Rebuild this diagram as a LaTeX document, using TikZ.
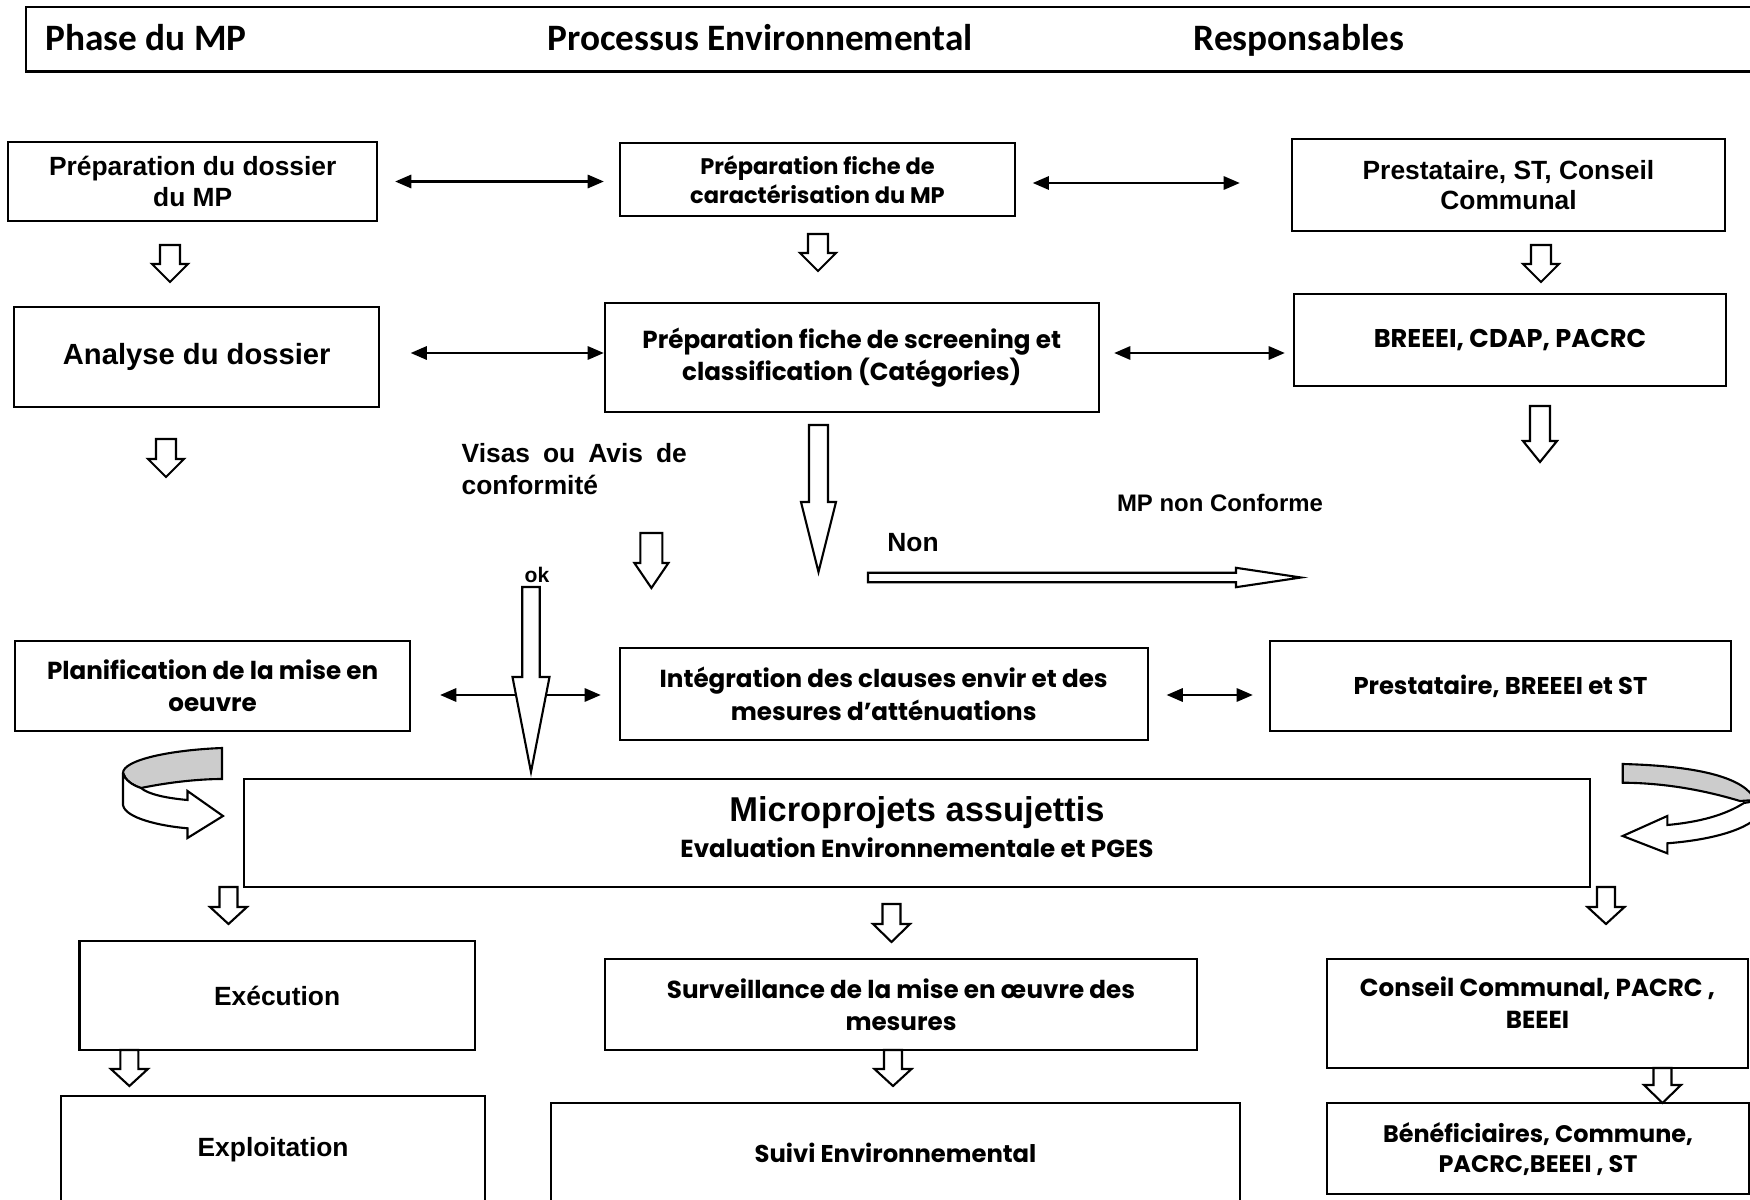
\documentclass[tikz,border=0pt]{standalone}
\usepackage{fontspec}
\setmainfont{Liberation Sans}
\newfontfamily\hdfont{Carlito}
\newfontfamily\cgfont{Poppins}
\usetikzlibrary{arrows.meta}

\tikzset{
  box/.style={draw, line width=0.6pt, inner sep=2pt, align=center,
    font=\bfseries\fontsize{7.5}{8.6}\selectfont},
  cgbox/.style={box, font=\cgfont\bfseries\fontsize{7}{9.2}\selectfont},
  biarrow/.style={line width=0.6pt,
    {Triangle[length=4.6pt,width=3.8pt]}-{Triangle[length=4.6pt,width=3.8pt]}},
  blk/.style={draw, line width=0.6pt, fill=white, line join=miter},
  lbl/.style={font=\bfseries\fontsize{7.5}{9}\selectfont, inner sep=0pt},
  hd/.style={font=\hdfont\bfseries\fontsize{10.6}{12}\selectfont, inner sep=0pt, anchor=base west},
}

% hollow block arrow pointing down: x, top, bottom, half shaft, half head, head start
\newcommand{\blkdown}[6]{%
  \draw[blk] (#1-#4,#2) -- (#1+#4,#2) -- (#1+#4,#6) -- (#1+#5,#6) -- (#1,#3)
    -- (#1-#5,#6) -- (#1-#4,#6) -- cycle;}

\begin{document}
\begin{tikzpicture}[x=0.01cm, y=-0.01cm]
  \useasboundingbox (0,0) rectangle (1750,1200);
  \clip (0,0) rectangle (1750,1200);

  % header
  \node[draw, line width=0.7pt, anchor=north west, minimum width=17.5cm,
    minimum height=0.647cm] (header) at (24.5,5.6) {};
  \node[hd] (hphase) at (44.6,51) {Phase du MP};
  \node[hd] (hproc) at (547,51) {Processus Environnemental};
  \node[hd] (hresp) at (1193,51) {Responsables};

  % first row
  \node[box, minimum width=3.685cm, minimum height=0.79cm] (prepdos) at (192.75,181.5)
    {Préparation du dossier\\du MP};
  \node[cgbox, minimum width=3.95cm, minimum height=0.73cm,
    font=\cgfont\bfseries\fontsize{6.4}{8.4}\selectfont] (fichecar) at (817.5,179.5)
    {Préparation fiche de\\caractérisation du MP};
  \node[box, minimum width=4.33cm, minimum height=0.92cm] (prest) at (1508.5,185)
    {Prestataire, ST, Conseil\\Communal};

  % second row
  \node[box, minimum width=3.645cm, minimum height=1cm,
    font=\bfseries\fontsize{8.3}{10}\selectfont] (analyse) at (196.75,357) {Analyse du dossier};
  \node[cgbox, minimum width=4.935cm, minimum height=1.09cm] (screening) at (851.75,357.5)
    {Préparation fiche de screening et\\classification (Catégories)};
  \node[cgbox, minimum width=4.32cm, minimum height=0.92cm,
    font=\cgfont\bfseries\fontsize{7.3}{9}\selectfont] (breeei) at (1510,340)
    {BREEEI, CDAP, PACRC};

  % labels
  \node[lbl, anchor=north west, text width=2.25cm, align=justify,
    font=\bfseries\fontsize{7.5}{9.1}\selectfont] (visas) at (461,443)
    {Visas ou Avis de conformité};
  \node[lbl, font=\bfseries\fontsize{6.8}{8}\selectfont] (nonconf) at (1220,503) {MP non Conforme};
  \node[lbl] (non) at (913,543) {Non};
  \node[lbl, font=\bfseries\fontsize{6}{7}\selectfont] (ok) at (537,575) {ok};

  % third row
  \node[cgbox, minimum width=3.947cm, minimum height=0.9cm] (planif) at (212.6,686)
    {Planification de la mise en\\oeuvre};
  \node[cgbox, minimum width=5.274cm, minimum height=0.92cm] (integ) at (883.7,694)
    {Intégration des clauses envir et des\\mesures d’atténuations};
  \node[cgbox, minimum width=4.61cm, minimum height=0.9cm,
    font=\cgfont\bfseries\fontsize{6.9}{9}\selectfont] (prestbst) at (1500.5,686)
    {Prestataire, BREEEI et ST};

  % main box
  \node[box, minimum width=13.46cm, minimum height=1.08cm] (micro) at (917,833.3)
    {{\fontsize{9.8}{11}\selectfont Microprojets assujettis}\\[1.5pt]
     {\cgfont\fontsize{7}{8}\selectfont Evaluation Environnementale et PGES}\\[-5pt]};

  % bottom rows
  \node[box, minimum width=3.95cm, minimum height=1.09cm] (exec) at (277.1,995.5) {Exécution};
  \node[cgbox, minimum width=5.92cm, minimum height=0.907cm] (surv) at (901,1004.7)
    {Surveillance de la mise en œuvre des\\mesures};
  \node[cgbox, minimum width=4.21cm, minimum height=1.084cm] (conseil) at (1537.5,1013.5)
    {Conseil Communal, PACRC ,\\BEEEI\\[-3pt]};
  \node[box, minimum width=4.238cm, minimum height=1.07cm] (exploit) at (273.1,1149.5) {Exploitation};
  \node[cgbox, minimum width=6.884cm, minimum height=0.997cm,
    font=\cgfont\bfseries\fontsize{6.9}{9}\selectfont] (suivi) at (895.5,1153.2)
    {Suivi Environnemental};
  \node[cgbox, minimum width=4.22cm, minimum height=0.907cm,
    font=\cgfont\bfseries\fontsize{6.8}{8.6}\selectfont] (benef) at (1538,1148.7)
    {Bénéficiaires, Commune,\\PACRC,BEEEI , ST};

  % double arrows
  \draw[biarrow, shorten <=0.17cm, shorten >=0.15cm] (prepdos.east) -- (prepdos.east -| fichecar.west);
  \draw[biarrow, shorten <=0.166cm, shorten >=0.51cm] (fichecar.east |- 0,183) -- (prest.west |- 0,183);
  \draw[biarrow, shorten <=0.305cm] (analyse.east |- 0,353) -- (screening.west |- 0,353);
  \draw[biarrow, shorten <=0.145cm, shorten >=0.08cm] (screening.east |- 0,353) -- (breeei.west |- 0,353);
  \draw[biarrow, shorten <=0.29cm, shorten >=0.18cm] (planif.east |- 0,695) -- (integ.west |- 0,695);
  \draw[biarrow, shorten <=0.18cm, shorten >=0.16cm] (integ.east |- 0,695) -- (prestbst.west |- 0,695);

  % hollow arrows
  \blkdown{170}{245}{282}{10}{18}{264}
  \blkdown{818}{234}{271}{10}{18}{253}
  \blkdown{1541}{245}{282}{10}{18}{264}
  \blkdown{166}{439}{477}{10}{18}{459}
  \blkdown{1540}{406}{462}{10}{17}{441}
  \blkdown{651.4}{533}{588}{11}{17}{563}
  \blkdown{818.5}{425}{572}{9.5}{17.5}{502}
  \blkdown{531}{587}{772}{8.75}{18.5}{677}
  \blkdown{228.5}{887}{924}{9}{18.5}{907}
  \blkdown{891.5}{904}{942}{9}{18.5}{924}
  \blkdown{1606}{887}{924}{9}{18.5}{907}
  \blkdown{129.4}{1050}{1086}{9}{18.5}{1069}
  \blkdown{893}{1050}{1086}{9}{18.5}{1069}
  \blkdown{1662.5}{1068}{1103}{9}{18.5}{1085}
  \draw[blk] (868,572.8) -- (1236,572.8) -- (1236,567.8) -- (1301,577.5) -- (1236,587.2)
    -- (1236,582.2) -- (868,582.2) -- cycle;

  % curved arrow left
  \draw[line width=0.6pt, fill=gray!40] (222,748) .. controls (170,750) and (123,760) .. (123,773)
    .. controls (125,780) and (132,785) .. (141,788) .. controls (170,782) and (200,779) .. (222,779) -- cycle;
  \draw[blk] (123,773) -- (123,805) .. controls (125,818) and (160,826) .. (187.5,828.3)
    -- (187.5,838) -- (223,816) -- (187.5,791) -- (187.5,800)
    .. controls (165,798) and (148,794) .. (141,788) .. controls (132,785) and (125,780) .. (123,773);

  % curved arrow right
  \draw[line width=0.6pt, fill=gray!40] (1622.7,764) .. controls (1700,766) and (1745,778) .. (1755,800)
    -- (1740,801) .. controls (1710,792) and (1670,783) .. (1622.7,782.7) -- cycle;
  \draw[blk] (1744,803) .. controls (1725,815) and (1700,822) .. (1667.3,825) -- (1667.3,816)
    -- (1622.7,836) -- (1667.3,853.3) -- (1667.3,843.3)
    .. controls (1710,840) and (1750,830) .. (1762,812) -- (1762,800) -- cycle;
\end{tikzpicture}
\end{document}
